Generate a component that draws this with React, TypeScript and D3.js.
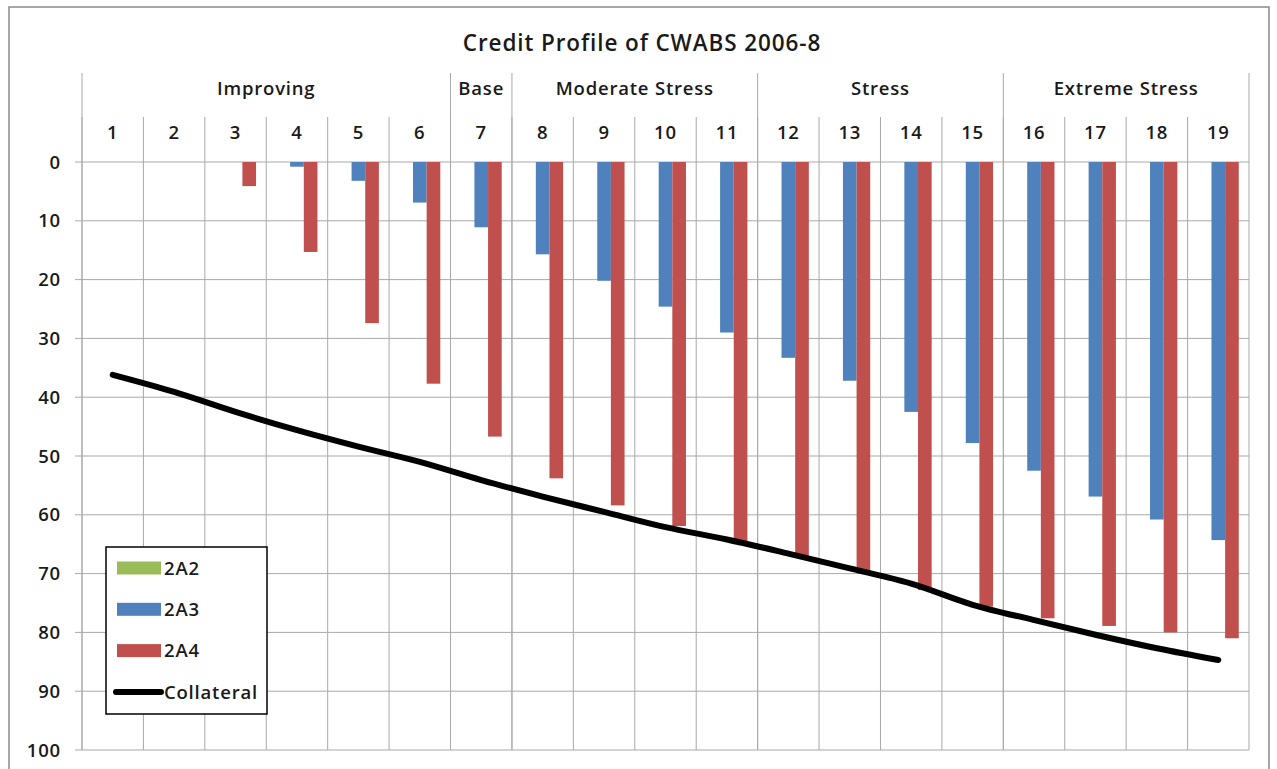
import * as d3 from 'd3'

const categories = ['1', '2', '3', '4', '5', '6', '7', '8', '9', '10', '11', '12', '13', '14', '15', '16', '17', '18', '19']

// scenario groups: label, first and last category
const groupNames = ['Improving', 'Base', 'Moderate Stress', 'Stress', 'Extreme Stress']
const groupFirst = ['1', '7', '8', '12', '16']
const groupLast = ['6', '7', '11', '15', '19']

const seriesNames = ['2A2', '2A3', '2A4']
const values2A2 = [0, 0, 0, 0, 0, 0, 0, 0, 0, 0, 0, 0, 0, 0, 0, 0, 0, 0, 0]
const values2A3 = [0, 0, 0, 0.8, 3.2, 6.9, 11.1, 15.7, 20.2, 24.6, 29.0, 33.3, 37.2, 42.5, 47.8, 52.5, 56.9, 60.8, 64.3]
const values2A4 = [0, 0, 4.1, 15.3, 27.4, 37.7, 46.7, 53.8, 58.4, 61.9, 64.6, 67.1, 70.0, 72.8, 75.6, 77.6, 78.9, 80.0, 81.0]
const collateral = [36.2, 39.1, 42.5, 45.6, 48.4, 51.0, 54.1, 56.9, 59.5, 62.1, 64.2, 66.6, 69.1, 71.7, 75.3, 77.9, 80.4, 82.7, 84.7]

const yTicks = [0, 10, 20, 30, 40, 50, 60, 70, 80, 90, 100]

const colors: Record<string, string> = { '2A2': '#9BBB59', '2A3': '#4F81BD', '2A4': '#C0504D' }
const font = '"Open Sans", Lato, sans-serif'
const textColor = '#1a1a1a'
const gridColor = '#a9a9a9'

export default function App() {
  const width = 1277
  const height = 769
  const plot = { left: 82, right: 1249, top: 162, bottom: 750 }

  const x = d3.scaleBand<string>()
    .domain(categories)
    .range([plot.left, plot.right])
    .paddingInner(0)
    .paddingOuter(0)

  const y = d3.scaleLinear()
    .domain([0, 100])
    .range([plot.top, plot.bottom])

  // Excel gap width 150%: three bars + 1.5 bar gap
  const barW = x.bandwidth() / 4.5
  const xs = d3.scaleBand<string>()
    .domain(seriesNames)
    .range([-1.5 * barW, 1.5 * barW])

  const seriesValues: Record<string, number[]> = { '2A2': values2A2, '2A3': values2A3, '2A4': values2A4 }

  const line = d3.line<number>()
    .x((_, i) => x(categories[i])! + x.bandwidth() / 2)
    .y(d => y(d))
    .curve(d3.curveCatmullRom.alpha(0.5))

  const groupBounds = groupNames.map((name, i) => ({
    name,
    x0: x(groupFirst[i])!,
    x1: x(groupLast[i])! + x.bandwidth()
  }))

  const legendItems = ['2A2', '2A3', '2A4', 'Collateral']
  const labelSize = 18.5
  const spacing = 0.8

  return (
    <svg width={width} height={height} style={{ position: 'absolute', left: 0, top: 0, background: '#fff' }}
      fontFamily={font}>
      {/* outer frame */}
      <rect x={9} y={7} width={1260} height={800} fill="#fff" stroke="#8a8a8a" strokeWidth={1.5} />

      <text x={642} y={51} textAnchor="middle" fontSize={22.5} fontWeight={600} letterSpacing={0.9}
        fill={textColor}>
        Credit Profile of CWABS 2006-8
      </text>

      {/* horizontal grid + tick marks */}
      {yTicks.map(t => (
        <g key={t}>
          <line x1={plot.left - 7} x2={plot.right} y1={y(t)} y2={y(t)} stroke={gridColor} strokeWidth={1} />
          <text x={61} y={y(t)} dy="0.36em" textAnchor="end" fontSize={labelSize} fontWeight={600}
            letterSpacing={spacing} fill={textColor}>{t}</text>
        </g>
      ))}

      {/* category separators */}
      {categories.map(c => (
        <line key={c} x1={x(c)!} x2={x(c)!} y1={117} y2={plot.bottom} stroke={gridColor} strokeWidth={1} />
      ))}
      {/* group separators */}
      {groupBounds.map(g => (
        <line key={g.name} x1={g.x0} x2={g.x0} y1={73} y2={plot.bottom} stroke={gridColor} strokeWidth={1} />
      ))}
      <line x1={plot.right} x2={plot.right} y1={73} y2={plot.bottom} stroke={gridColor} strokeWidth={1} />

      {/* group labels */}
      {groupBounds.map(g => (
        <text key={g.name} x={(g.x0 + g.x1) / 2} y={88} dy="0.36em" textAnchor="middle" fontSize={labelSize}
          fontWeight={600} letterSpacing={spacing} fill={textColor}>{g.name}</text>
      ))}
      {/* category labels */}
      {categories.map(c => (
        <text key={c} x={x(c)! + x.bandwidth() / 2} y={132} dy="0.36em" textAnchor="middle" fontSize={labelSize}
          fontWeight={600} letterSpacing={spacing} fill={textColor}>{c}</text>
      ))}

      {/* bars */}
      {seriesNames.map(s => (
        <g key={s}>
          {categories.map((c, i) => {
            const v = seriesValues[s][i]
            if (!v) return null
            return (
              <rect key={c} x={x(c)! + x.bandwidth() / 2 + xs(s)!} y={y(0)} width={xs.bandwidth()}
                height={y(v) - y(0)} fill={colors[s]} />
            )
          })}
        </g>
      ))}

      {/* collateral line */}
      <path d={line(collateral) || ''} fill="none" stroke="#000" strokeWidth={6} strokeLinecap="round"
        strokeLinejoin="round" />

      {/* legend */}
      <g>
        <rect x={106} y={547} width={161} height={167} fill="#fff" stroke="#000" strokeWidth={1.5} />
        {legendItems.map((item, i) => {
          const cy = 568 + i * 41.3
          return (
            <g key={item}>
              {item === 'Collateral'
                ? <line x1={116} x2={161} y1={cy} y2={cy} stroke="#000" strokeWidth={6} strokeLinecap="round" />
                : <rect x={117} y={cy - 6.5} width={44} height={13} fill={colors[item]} />}
              <text x={164} y={cy} dy="0.36em" fontSize={labelSize} fontWeight={600} letterSpacing={spacing}
                fill={textColor}>{item}</text>
            </g>
          )
        })}
      </g>
    </svg>
  )
}
